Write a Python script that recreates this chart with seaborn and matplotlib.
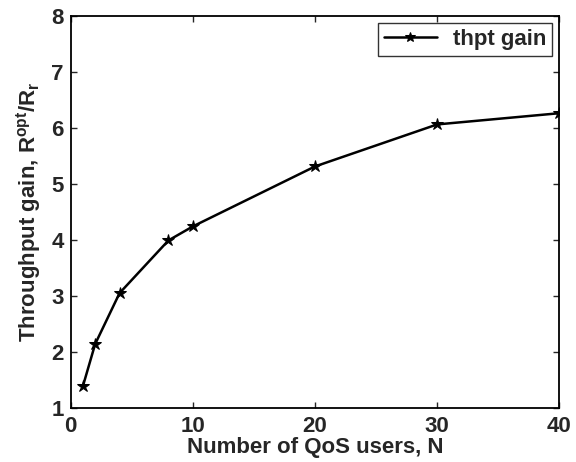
import matplotlib
matplotlib.use("Agg")
import matplotlib.pyplot as plt
import seaborn as sns
import pandas as pd

# Throughput gain versus number of QoS users
num_users = [1, 2, 4, 8, 10, 20, 30, 40]
thpt_gain = [1.39, 2.14, 3.05, 3.99, 4.24, 5.31, 6.06, 6.26]
x_ticks = [0, 10, 20, 30, 40]
y_ticks = [1, 2, 3, 4, 5, 6, 7, 8]

sns.set_theme(style="ticks")
plt.rcParams["font.family"] = ["Liberation Sans", "DejaVu Sans"]
plt.rcParams["font.weight"] = "bold"
plt.rcParams["mathtext.fontset"] = "custom"
plt.rcParams["mathtext.rm"] = "Liberation Sans:bold"
plt.rcParams["mathtext.it"] = "Liberation Sans:bold"
plt.rcParams["mathtext.bf"] = "Liberation Sans:bold"

df = pd.DataFrame({"N": num_users, "gain": thpt_gain})

W, H = 576, 462
fig = plt.figure(figsize=(W / 100, H / 100), dpi=100)
left, right, top, bottom = 70.7, 559.3, 15.7, 408.0
ax = fig.add_axes([left / W, 1 - bottom / H, (right - left) / W, (bottom - top) / H])

sns.lineplot(data=df, x="N", y="gain", ax=ax, color="black", lw=1.8,
             marker="*", markersize=9, markeredgecolor="black",
             markerfacecolor="black", label="thpt gain")

ax.set_xlim(0, 40)
ax.set_ylim(1, 8)
ax.set_xticks(x_ticks)
ax.set_yticks(y_ticks)
ax.tick_params(direction="in", top=True, right=True, length=4, width=1,
               labelsize=16)
ax.tick_params(axis="x", pad=6)
ax.tick_params(axis="y", pad=5)
for s in ax.spines.values():
    s.set_linewidth(1.3)
    s.set_color("black")

ax.set_xlabel("Number of QoS users, N", fontsize=16, fontweight="bold", labelpad=0)
ax.set_ylabel(r"Throughput gain, R$^{\rm opt}$/R$_{\rm r}$", fontsize=16,
              fontweight="bold", labelpad=6)

leg = ax.legend(loc="upper right", fontsize=16, frameon=True, fancybox=False,
                edgecolor="black", borderaxespad=0.35, handlelength=2.4,
                borderpad=0.25, handletextpad=0.7, markerscale=0.8)
leg.get_frame().set_linewidth(1.0)

fig.savefig("out.png", dpi=100)
